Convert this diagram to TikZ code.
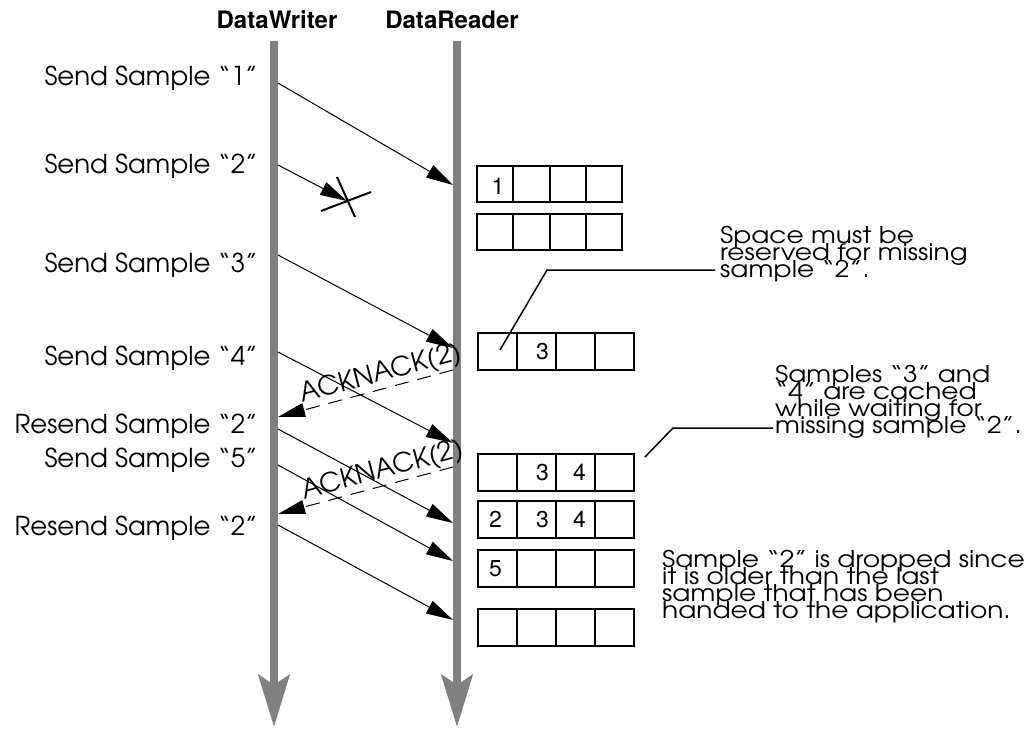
\documentclass[tikz,border=0pt]{standalone}
\usepackage{fontspec}
\usetikzlibrary{arrows.meta}
\IfFontExistsTF{TeX Gyre Adventor}{%
  \newfontfamily\gothfont{TeX Gyre Adventor}%
  \newfontfamily\gothwide[FakeStretch=1.15]{TeX Gyre Adventor}}{%
  \newfontfamily\gothfont{Poppins}%
  \newfontfamily\gothwide{Poppins}}
\newfontfamily\helvfont{TeX Gyre Heros}
\newcommand\labfont{\gothfont\fontsize{26}{30}\selectfont}
\newcommand\ackfont{\gothfont\fontsize{26.5}{30}\selectfont}
\newcommand\annfont{\gothwide\fontsize{23}{16.8}\selectfont\lineskiplimit=-50pt\lineskip=0pt\relax}
\newcommand\headfont{\helvfont\bfseries\fontsize{24}{28}\selectfont}
\newcommand\digfont{\helvfont\fontsize{23}{27}\selectfont}
\definecolor{lifegray}{HTML}{808080}
\newcommand\cellrow[4]{%
  \node[#4] (#1a) at (#2,#3) {};
  \node[#4] (#1b) at (#1a.north east) {};
  \node[#4] (#1c) at (#1b.north east) {};
  \node[#4] (#1d) at (#1c.north east) {};
}
\tikzset{
  life/.style={draw=lifegray, line width=8pt, -{Stealth[length=52pt,width=31pt,inset=10pt]}},
  msg/.style={line width=1pt, -{Triangle[length=27pt,width=14pt]}},
  ack/.style={msg, dash pattern=on 14pt off 9pt},
  cellA/.style={draw, line width=2pt, minimum width=36.25pt, minimum height=36pt, inner sep=0pt, outer sep=0pt, anchor=north west},
  cellB/.style={cellA, minimum width=39pt, minimum height=37pt},
  lbl/.style={font=\labfont, anchor=base east, inner sep=0pt},
  ann/.style={font=\annfont, align=left, anchor=base west, inner sep=0pt},
  head/.style={font=\headfont, anchor=base, inner sep=0pt},
  dig/.style={font=\digfont, inner sep=0pt},
  acklbl/.style={font=\ackfont, sloped, above=1pt, inner sep=0pt},
  leader/.style={line width=1.5pt},
  cross/.style={line width=2pt},
}
\begin{document}
\begin{tikzpicture}[x=1pt,y=-1pt]
\useasboundingbox[fill=white] (0,0) rectangle (1035,728);
% headers
\node[head] (hw) at (277,28) {DataWriter};
\node[head] (hr) at (452,28) {DataReader};
% lifelines
\coordinate (wtop) at (274,41);
\coordinate (wbot) at (274,727);
\coordinate (rtop) at (457,41);
\coordinate (rbot) at (457,727);
\draw[life] (wtop) -- (wbot);
\draw[life] (rtop) -- (rbot);
% labels
\node[lbl] (l1) at (258,85) {Send Sample “1”};
\node[lbl] (l2) at (258,173) {Send Sample “2”};
\node[lbl] (l3) at (258,272) {Send Sample “3”};
\node[lbl] (l4) at (258,365) {Send Sample “4”};
\node[lbl] (l5) at (258,433) {Resend Sample “2”};
\node[lbl] (l6) at (258,467) {Send Sample “5”};
\node[lbl] (l7) at (258,535) {Resend Sample “2”};
% message endpoints
\coordinate (s1) at (278,83);  \coordinate (t1) at (453,185);
\coordinate (s2) at (278,165); \coordinate (t2) at (347,201);
\coordinate (s3) at (278,255); \coordinate (t3) at (453,348);
\coordinate (s4) at (278,352); \coordinate (t4) at (453,443);
\coordinate (s5) at (278,429); \coordinate (t5) at (453,523);
\coordinate (s6) at (278,465); \coordinate (t6) at (453,561);
\coordinate (s7) at (278,525); \coordinate (t7) at (453,620);
\coordinate (a1s) at (453,370); \coordinate (a1t) at (278,417);
\coordinate (a2s) at (453,467); \coordinate (a2t) at (278,514);
\draw[msg] (s1) -- (t1);
\draw[msg] (s2) -- (t2);
\draw[msg] (s3) -- (t3);
\draw[msg] (s4) -- (t4);
\draw[msg] (s5) -- (t5);
\draw[msg] (s6) -- (t6);
\draw[msg] (s7) -- (t7);
\draw[ack] (a1s) -- node[acklbl, pos=0.39] (ack1) {ACKNACK(2)} (a1t);
\draw[ack] (a2s) -- node[acklbl, pos=0.38] (ack2) {ACKNACK(2)} (a2t);
% lost sample cross
\coordinate (xa1) at (337,177); \coordinate (xa2) at (355,217);
\coordinate (xb1) at (321,211); \coordinate (xb2) at (371,192);
\draw[cross] (xa1) -- (xa2);
\draw[cross] (xb1) -- (xb2);
% reader cache rows
\cellrow{r1}{477}{166}{cellA}
\cellrow{r2}{477}{214}{cellA}
\cellrow{r3}{478}{333}{cellB}
\cellrow{r4}{478}{454}{cellB}
\cellrow{r5}{478}{501}{cellB}
\cellrow{r6}{478}{550}{cellB}
\cellrow{r7}{478}{609}{cellB}
\node[dig] (d11) at ([xshift=3pt,yshift=-2pt]r1a.center) {1};
\node[dig] (d32) at ([xshift=6pt]r3b.center) {3};
\node[dig] (d42) at ([xshift=6pt]r4b.center) {3};
\node[dig] (d43) at ([xshift=4pt]r4c.center) {4};
\node[dig] (d51) at ([xshift=-2pt]r5a.center) {2};
\node[dig] (d52) at ([xshift=6pt]r5b.center) {3};
\node[dig] (d53) at ([xshift=4pt]r5c.center) {4};
\node[dig] (d61) at ([xshift=-2pt]r6a.center) {5};
% annotations (anchor is the baseline of the last line)
\node[ann] (n1) at (720,277) {Space must be\\reserved for missing\\sample “2”.};
\node[ann] (n2) at (775,433) {Samples “3” and\\“4” are cached\\while waiting for\\missing sample “2”.};
\node[ann] (n3) at (662,618) {Sample “2” is dropped since\\it is older than the last\\sample that has been\\handed to the application.};
\coordinate (p1a) at (500,350); \coordinate (p1b) at (547,270); \coordinate (p1c) at (715,270);
\coordinate (p2a) at (645,457); \coordinate (p2b) at (673,428); \coordinate (p2c) at (773,428);
\draw[leader] (p1a) -- (p1b) -- (p1c);
\draw[leader] (p2a) -- (p2b) -- (p2c);
\end{tikzpicture}
\end{document}
